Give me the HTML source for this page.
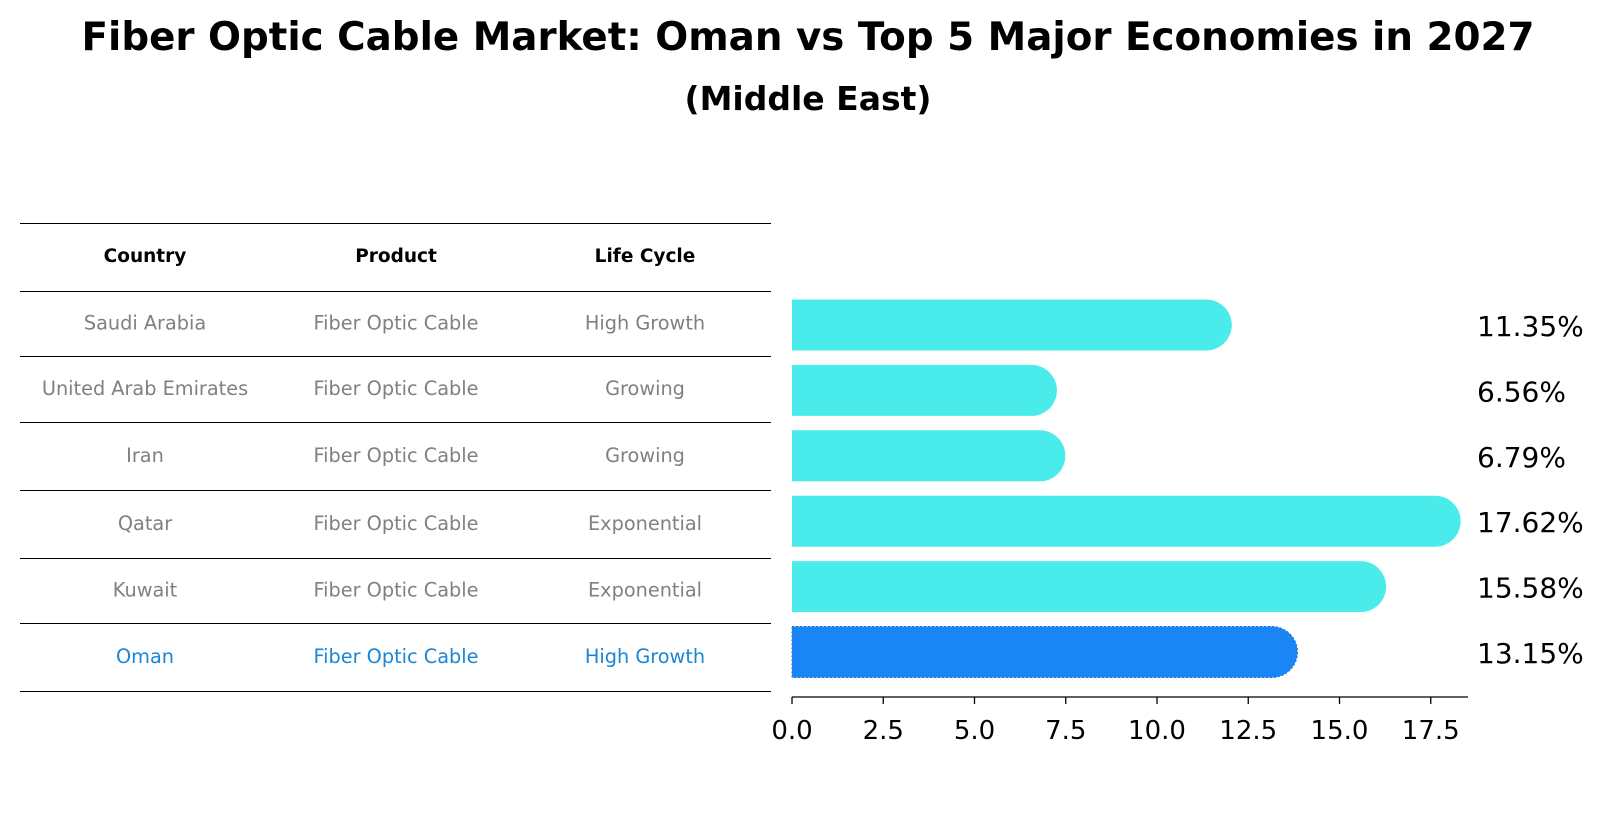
<!DOCTYPE html>
<html><head><meta charset="utf-8"><style>
body{margin:0;background:#fff;width:1604px;height:823px;overflow:hidden;font-family:"DejaVu Sans","Liberation Sans",sans-serif}
</style></head><body>
<svg width="1604" height="823" xmlns="http://www.w3.org/2000/svg">
<text x="808" y="50" text-anchor="middle" font-size="38.8" font-weight="bold">Fiber Optic Cable Market: Oman vs Top 5 Major Economies in 2027</text>
<text x="808" y="110" text-anchor="middle" font-size="33" font-weight="bold">(Middle East)</text>
<g id="table"></g>
<g id="bars"></g>
</svg>
<script>
const countries=["Saudi Arabia","United Arab Emirates","Iran","Qatar","Kuwait","Oman"];
const products=["Fiber Optic Cable","Fiber Optic Cable","Fiber Optic Cable","Fiber Optic Cable","Fiber Optic Cable","Fiber Optic Cable"];
const lifecycles=["High Growth","Growing","Growing","Exponential","Exponential","High Growth"];
const values=[11.35,6.56,6.79,17.62,15.58,13.15];
const ticks=[0,2.5,5,7.5,10,12.5,15,17.5];
const NS="http://www.w3.org/2000/svg";
function mk(tag,attrs,parent,txt){const e=document.createElementNS(NS,tag);for(const k in attrs)e.setAttribute(k,attrs[k]);if(txt!==undefined)e.textContent=txt;parent.appendChild(e);return e;}
const tbl=document.getElementById('table');
const lineYs=[223,291,356,422,490,558,623,691];
lineYs.forEach(y=>{const l=mk('line',{x1:20,x2:771,y1:y+0.5,y2:y+0.5,stroke:'#000','stroke-width':1},tbl);

});
const colX=[145,396,645];
["Country","Product","Life Cycle"].forEach((h,i)=>{const t=mk('text',{x:colX[i],y:262,'text-anchor':'middle','font-size':18.5,'font-weight':'bold'},tbl,h);

});
countries.forEach((c,r)=>{const y=(lineYs[r+1]+lineYs[r+2])/2+6;const col=r===countries.length-1?'#1a86d6':'#808080';
[c,products[r],lifecycles[r]].forEach((v,i)=>{const t=mk('text',{x:colX[i],y:y,'text-anchor':'middle','font-size':19.3,fill:col},tbl,v);

});});
const g=document.getElementById('bars');
const x0=792,pu=36.5;const xs=v=>x0+v*pu;
const ys=i=>325+i*65.4;const h=51,r=25.5;
values.forEach((v,i)=>{const oman=i===values.length-1;const fill=oman?'#1a86f5':'#4aeceb';
const grp=mk('g',{},g);


const xe=xs(v),yc=ys(i);
mk('path',{d:`M${x0},${yc-h/2} L${xe},${yc-h/2} A${r},${r} 0 0 1 ${xe},${yc+h/2} L${x0},${yc+h/2} Z`,fill:fill,stroke:oman?'#1f6fd0':'none','stroke-dasharray':oman?'2,2':'none','stroke-width':1},grp);
const t=mk('text',{x:1477,y:yc+11,'font-size':28},g,v.toFixed(2)+'%');

});
const ax=mk('line',{x1:x0,x2:1468,y1:697,y2:697,stroke:'#000','stroke-width':1.3},g);


ticks.forEach(tv=>{mk('line',{x1:xs(tv),x2:xs(tv),y1:697,y2:704,stroke:'#000','stroke-width':1.3},g);
const t=mk('text',{x:xs(tv),y:739,'text-anchor':'middle','font-size':26},g,tv.toFixed(1));

});
</script>
</body></html>
